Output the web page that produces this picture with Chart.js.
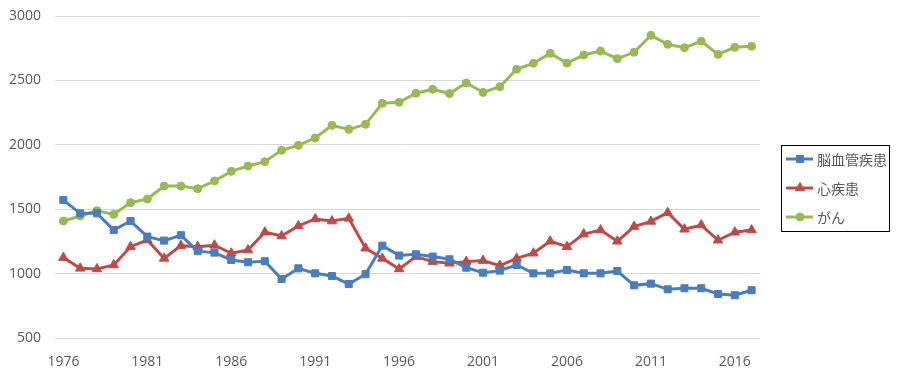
<!DOCTYPE html>
<html>
<head>
<meta charset="utf-8">
<script src="https://cdn.jsdelivr.net/npm/chart.js@4/dist/chart.umd.min.js"></script>
<style>
  html, body { margin: 0; padding: 0; background: #fff; }
  #wrap { width: 899px; height: 377px; position: relative; }
</style>
</head>
<body>
<div id="wrap"><canvas id="grafico"></canvas></div>
<script>
const years = [];
for (let y = 1976; y <= 2017; y++) years.push(String(y));
const xTickLabels = ["1976", "1981", "1986", "1991", "1996", "2001", "2006", "2011", "2016"];
const yTicks = [500, 1000, 1500, 2000, 2500, 3000];

// 脳血管疾患
const noukekkan = [1571, 1468, 1468, 1338, 1408, 1287, 1256, 1298, 1174, 1163,
    1106, 1088, 1096, 958, 1041, 1002, 981, 919, 995, 1217,
    1140, 1150, 1132, 1111, 1046, 1007, 1023, 1067, 1002, 1002,
    1028, 1002, 1002, 1020, 909, 922, 878, 886, 886, 842,
    832, 871];
// 心疾患
const shinshikkan = [1124, 1041, 1036, 1067, 1209, 1261, 1118, 1217, 1209, 1220,
    1158, 1183, 1321, 1292, 1370, 1424, 1408, 1429, 1197, 1118,
    1036, 1132, 1093, 1080, 1093, 1101, 1062, 1118, 1158, 1251,
    1209, 1307, 1338, 1251, 1365, 1405, 1473, 1344, 1377, 1259,
    1321, 1338];
// がん
const gan = [1408, 1447, 1488, 1460, 1551, 1579, 1680, 1680, 1659, 1719,
    1794, 1835, 1869, 1957, 1996, 2053, 2151, 2120, 2159, 2322,
    2330, 2400, 2431, 2398, 2480, 2407, 2451, 2586, 2633, 2710,
    2635, 2697, 2728, 2669, 2718, 2850, 2780, 2754, 2804, 2702,
    2757, 2765];

const textColor = "#595959";

// legenda desenhada à mão (linha + marcador, com moldura)
const legendaBox = {
    id: "legendaBox",
    afterDraw(chart) {
        const ctx = chart.ctx;
        const left = 781.5, top = 145.5, w = 108, h = 86;
        ctx.save();
        ctx.strokeStyle = "#000";
        ctx.lineWidth = 1;
        ctx.strokeRect(left, top, w, h);
        chart.data.datasets.forEach((ds, i) => {
            const y = 159 + i * 29;
            ctx.strokeStyle = ds.borderColor;
            ctx.lineWidth = 3;
            ctx.beginPath();
            ctx.moveTo(786, y);
            ctx.lineTo(813, y);
            ctx.stroke();
            ctx.fillStyle = ds.borderColor;
            ctx.lineWidth = 1;
            Chart.helpers.drawPoint(ctx, {
                pointStyle: ds.pointStyle,
                radius: ds.pointRadius,
                rotation: 0,
                borderWidth: 1,
            }, 800, y);
            ctx.fillStyle = textColor;
            ctx.font = '14px "Noto Sans CJK JP"';
            ctx.textBaseline = "middle";
            ctx.textAlign = "left";
            ctx.fillText(ds.label, 817, y + 1);
        });
        ctx.restore();
    },
};

function serie(label, data, color, style, radius) {
    return {
        label: label,
        data: data,
        borderColor: color,
        backgroundColor: color,
        pointBackgroundColor: color,
        pointBorderColor: color,
        pointStyle: style,
        pointRadius: radius,
        pointBorderWidth: 1,
        borderWidth: 3,
        tension: 0,
    };
}

new Chart(document.getElementById("grafico").getContext("2d"), {
    type: "line",
    data: {
        labels: years,
        datasets: [
            serie("脳血管疾患", noukekkan, "#4a7ebb", "rect", 5),
            serie("心疾患", shinshikkan, "#be4b48", "triangle", 5.5),
            serie("がん", gan, "#98b954", "circle", 4),
        ],
    },
    options: {
        responsive: true,
        maintainAspectRatio: false,
        animation: false,
        layout: { padding: { top: 16, right: 139, left: 0, bottom: 0 } },
        plugins: {
            legend: { display: false },
            tooltip: { enabled: false },
        },
        scales: {
            x: {
                offset: true,
                grid: { display: false },
                border: { display: false },
                ticks: {
                    autoSkip: false,
                    maxRotation: 0,
                    padding: 8,
                    color: textColor,
                    font: { family: "Open Sans", size: 14 },
                    callback: function (v, i) {
                        const l = years[i];
                        return xTickLabels.includes(l) ? l : "";
                    },
                },
                afterFit: function (s) { s.height = 39; s.paddingLeft = 0; s.paddingRight = 0; },
            },
            y: {
                min: 500,
                max: 3000,
                border: { display: false },
                grid: { color: "#d9d9d9", drawTicks: false },
                afterBuildTicks: function (s) {
                    s.ticks = yTicks.map(v => ({ value: v }));
                },
                ticks: {
                    padding: 14,
                    color: textColor,
                    font: { family: "Open Sans", size: 14 },
                    callback: function (v) { return String(v); },
                },
                afterFit: function (s) { s.width = 55; s.paddingTop = 0; s.paddingBottom = 0; },
            },
        },
    },
    plugins: [legendaBox],
});
</script>
</body>
</html>
